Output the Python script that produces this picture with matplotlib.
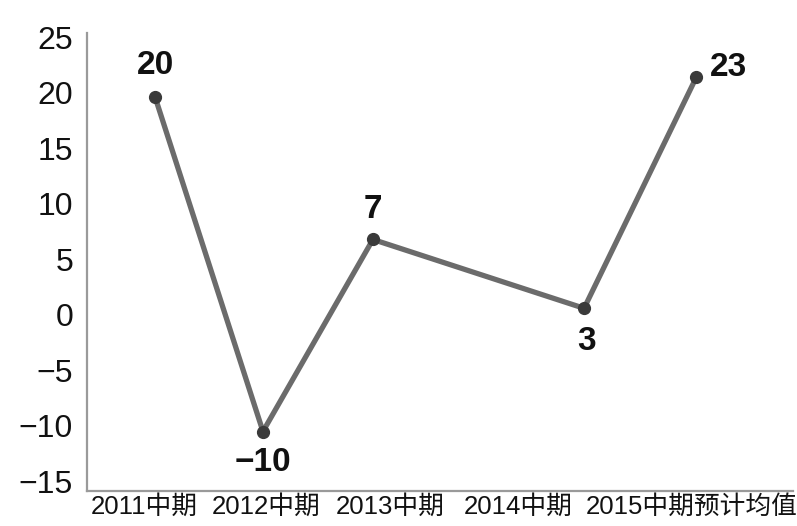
import matplotlib.pyplot as plt

# Data
categories = ['2011中期', '2012中期', '2013中期', '2014中期', '2015中期预计均值']
values = [19.6, -10.5, 6.8, 0.6, 21.4]      # where the points sit
value_labels = ['20', '\u221210', '7', '3', '23']  # numbers printed by the points

# Layout (the original is hand-placed, not evenly spaced)
point_x = [0, 0.98, 1.98, 3.9, 4.92]
tick_x = [-0.1, 1.01, 2.14, 3.3, 4.88]
label_offsets = [(0, 32, 'center'), (0, -31, 'center'), (0, 30, 'center'),
                 (2, -33, 'center'), (14, 10, 'left')]

plt.rcParams['font.family'] = ['Liberation Sans', 'Noto Sans CJK SC', 'DejaVu Sans']

fig = plt.figure(figsize=(7.97, 5.26), dpi=100)
ax = fig.add_axes([87 / 797, 35 / 526, (793 - 87) / 797, (491 - 33) / 526])

ax.plot(point_x, values, color='#6b6b6b', linewidth=3.8, zorder=2)
ax.plot(point_x, values, 'o', color='#3a3a3a', markersize=8.5, zorder=3)

for x, y, lab, (dx, dy, ha) in zip(point_x, values, value_labels, label_offsets):
    ax.annotate(lab, (x, y), xytext=(dx, dy), textcoords='offset pixels',
                ha=ha, va='center', fontsize=24, fontweight='bold', color='#111111')

ax.set_xlim(-0.62, 5.8)
ax.set_ylim(-15.86, 25.4)
ax.set_yticks(range(-15, 30, 5))
ax.set_xticks(tick_x)
ax.set_xticklabels(categories, fontsize=18.5, color='#111111')
ax.tick_params(axis='y', labelsize=23, length=0, pad=10, labelcolor='#111111')
ax.tick_params(axis='x', length=0, pad=3)

for side in ['top', 'right']:
    ax.spines[side].set_visible(False)
for side in ['left', 'bottom']:
    ax.spines[side].set_color('#9a9a9a')
    ax.spines[side].set_linewidth(1.6)

plt.savefig('out.png', dpi=100)
